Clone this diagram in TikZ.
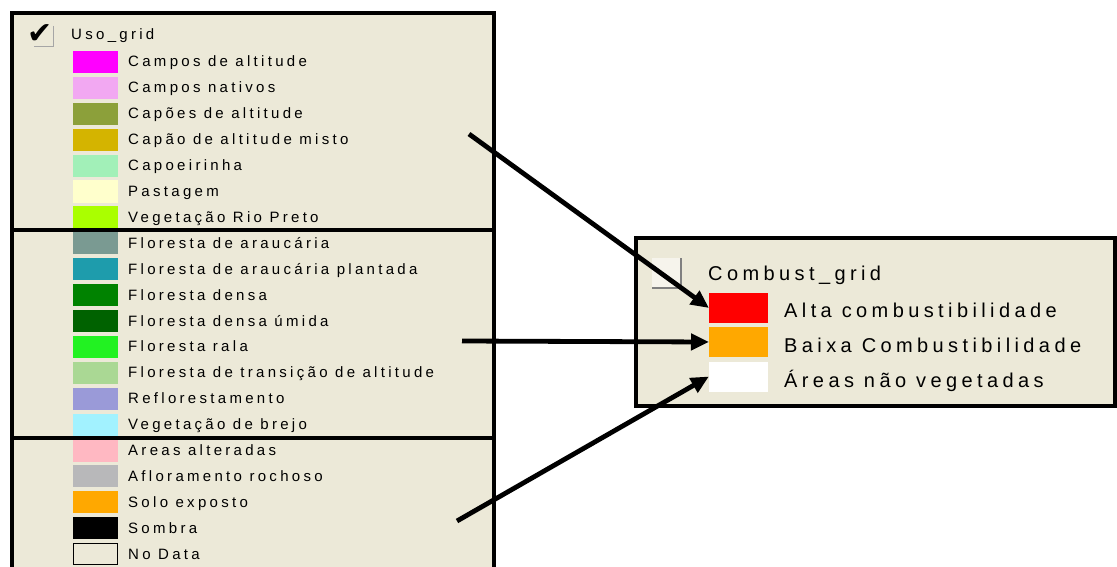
\documentclass[tikz,border=0pt]{standalone}
\usepackage{fontspec}
\usetikzlibrary{arrows.meta}
\newfontfamily\lgfont[LetterSpace=22]{Liberation Sans}
\newfontfamily\rgfont[LetterSpace=22]{Liberation Sans}
\newfontfamily\symfont{DejaVu Sans}
\definecolor{panel}{HTML}{ECE9D8}
\definecolor{cA}{HTML}{FF00FF}
\definecolor{cB}{HTML}{F2A8F2}
\definecolor{cC}{HTML}{8CA03A}
\definecolor{cD}{HTML}{D4B400}
\definecolor{cE}{HTML}{A2F0B8}
\definecolor{cF}{HTML}{FFFFCC}
\definecolor{cG}{HTML}{AAFF00}
\definecolor{cH}{HTML}{7A9A92}
\definecolor{cI}{HTML}{1E9CAC}
\definecolor{cJ}{HTML}{008200}
\definecolor{cK}{HTML}{006200}
\definecolor{cL}{HTML}{22F222}
\definecolor{cM}{HTML}{AAD894}
\definecolor{cN}{HTML}{9A9AD8}
\definecolor{cO}{HTML}{A2F2FF}
\definecolor{cP}{HTML}{FFB8C2}
\definecolor{cQ}{HTML}{B8B8BA}
\definecolor{cR}{HTML}{FFA800}
\definecolor{cS}{HTML}{000000}
\definecolor{redsw}{HTML}{FF0000}
\definecolor{orsw}{HTML}{FFA800}
\begin{document}
\begin{tikzpicture}[x=1pt,y=-1pt,
  border/.style={line width=3.5pt,black},
  swatch/.style={minimum width=45pt,minimum height=22pt,inner sep=0pt,outer sep=0pt,draw=none},
  bigswatch/.style={minimum width=59pt,minimum height=30pt,inner sep=0pt,outer sep=0pt,draw=none},
  lbl/.style={anchor=base west,inner sep=0pt,font=\lgfont\fontsize{15}{15}\selectfont},
  rlbl/.style={anchor=base west,inner sep=0pt,font=\rgfont\fontsize{20}{20}\selectfont},
  pointer/.style={line width=4.8pt,-{Triangle[length=18pt,width=16pt]}}]
\useasboundingbox (0,0) rectangle (1117,567);
\fill[white] (0,0) rectangle (1117,567);
% left panel
\fill[panel] (12,13) rectangle (494,567);
\draw[border] (12,567) -- (12,13) -- (494,13) -- (494,567);
\draw[border] (12,230) -- (494,230);
\draw[border] (12,438) -- (494,438);
% check
\draw[gray!70,line width=1pt] (53,26) -- (53,47) -- (34,47);
\node[inner sep=0pt,font=\symfont\fontsize{30}{30}\selectfont] (chk) at (40,34) {✔};
\node[lbl] (uso) at (71,40) {Uso\_grid};
\foreach \k/\col/\txt in {
  0/cA/Campos de altitude,
  1/cB/Campos nativos,
  2/cC/Capões de altitude,
  3/cD/Capão de altitude misto,
  4/cE/Capoeirinha,
  5/cF/Pastagem,
  6/cG/Vegetação Rio Preto,
  7/cH/Floresta de araucária,
  8/cI/Floresta de araucária plantada,
  9/cJ/Floresta densa,
  10/cK/Floresta densa úmida,
  11/cL/Floresta rala,
  12/cM/Floresta de transição de altitude,
  13/cN/Reflorestamento,
  14/cO/Vegetação de brejo,
  15/cP/Areas alteradas,
  16/cQ/Afloramento rochoso,
  17/cR/Solo exposto,
  18/cS/Sombra}{
  \node[swatch,fill=\col] (s\k) at (95.5,62+25.9*\k) {};
  \node[lbl] (t\k) at (128,67+25.9*\k) {\txt};
}
\node[swatch,fill=panel,draw=black,line width=1pt,minimum width=44pt,minimum height=21pt] (s19) at (95.5,554) {};
\node[lbl] (t19) at (128,559) {No Data};
% right panel
\fill[panel] (636,238) rectangle (1115,406);
\draw[border] (636,238) rectangle (1115,406);
\fill[panel!50!white] (652,258) rectangle (681,288);
\draw[gray,line width=1.2pt] (681,258) -- (681,288) -- (652,288);
\node[rlbl] (cg) at (708,280) {Combust\_grid};
\node[bigswatch,fill=redsw] (red) at (738.5,308) {};
\node[bigswatch,fill=orsw] (orange) at (738.5,342) {};
\node[bigswatch,fill=white] (white) at (738.5,376.5) {};
\node[rlbl] (alta) at (784,317) {Alta combustibilidade};
\node[rlbl] (baixa) at (784,352) {Baixa Combustibilidade};
\node[rlbl] (areas) at (784,387) {Áreas não vegetadas};
% arrows
\coordinate (a1) at (469,134);
\coordinate (a2) at (462,341);
\coordinate (a3) at (457,521);
\draw[pointer] (a1) -- (red.west);
\draw[pointer] (a2) -- (orange.west);
\draw[pointer] (a3) -- (white.west);
\end{tikzpicture}
\end{document}
